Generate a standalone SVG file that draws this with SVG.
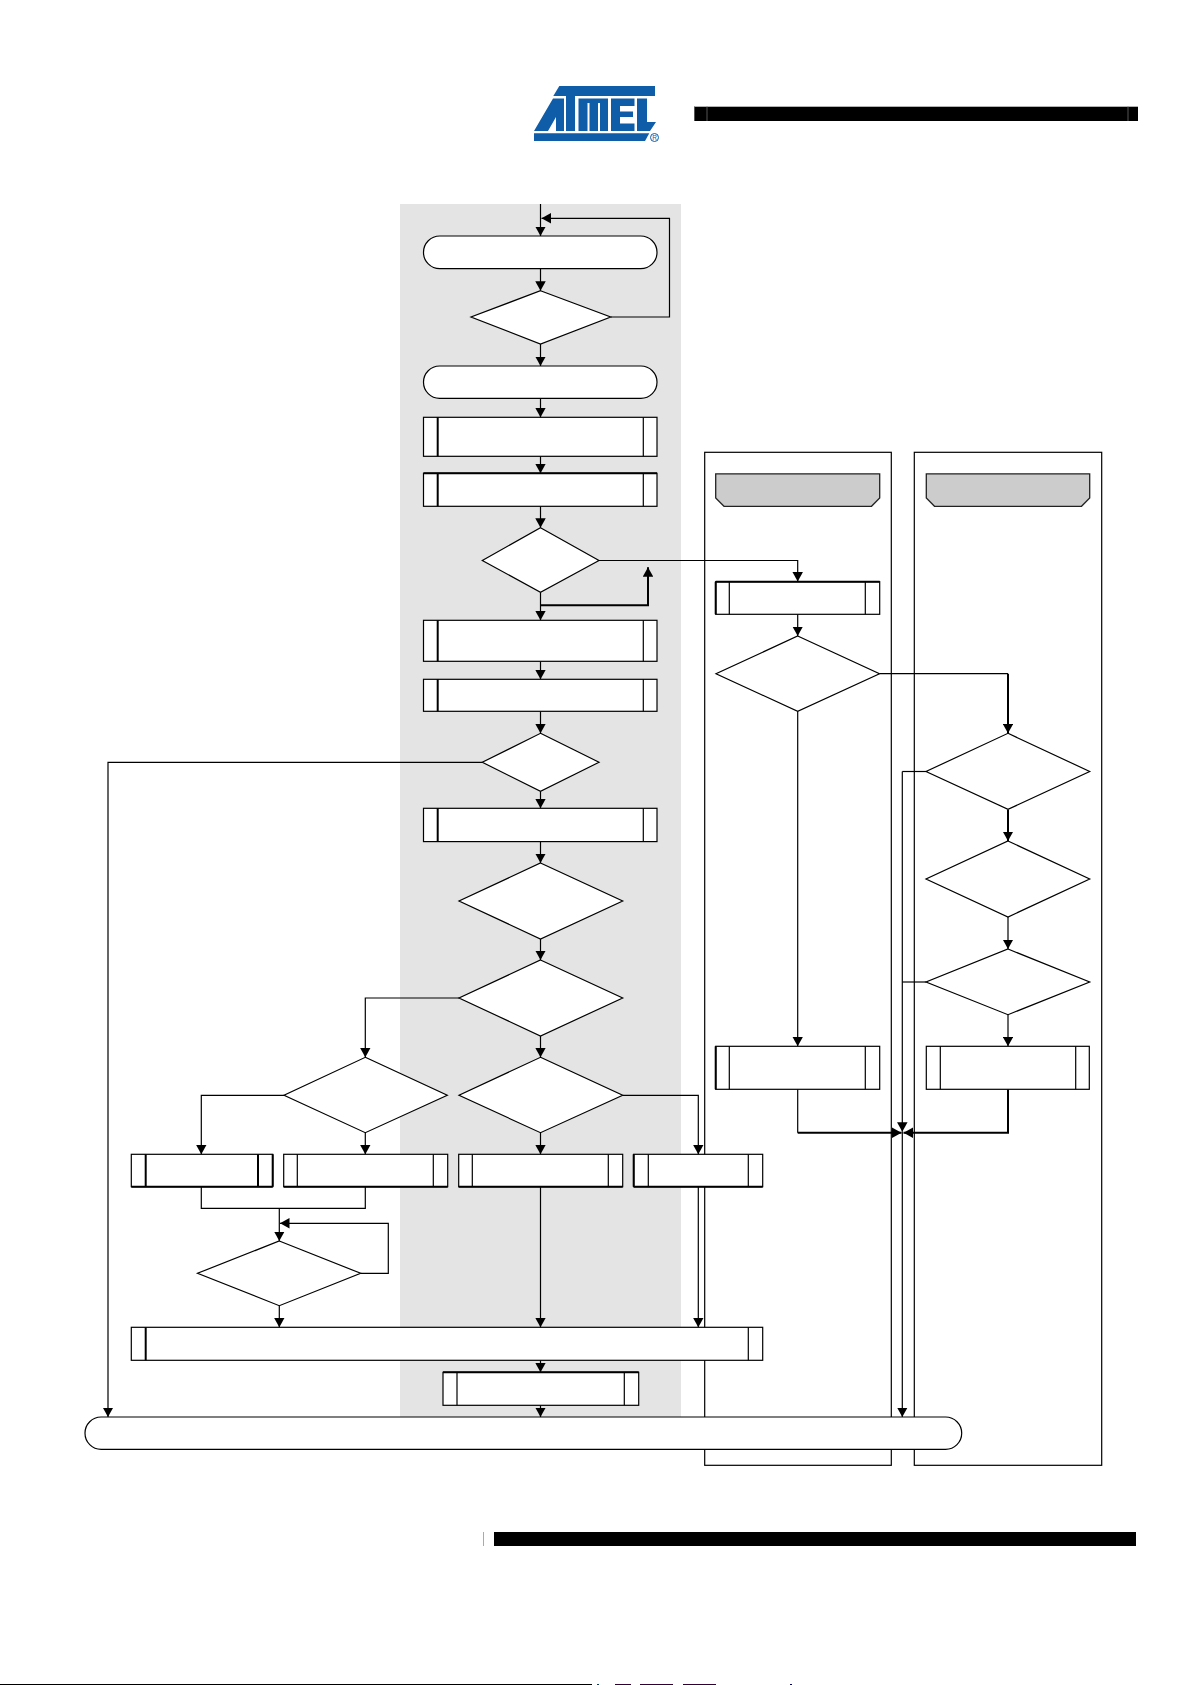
<svg xmlns="http://www.w3.org/2000/svg" width="1191" height="1685" viewBox="0 0 1191 1685">
<style>
.c{fill:none;stroke:#000;stroke-width:1.2}
.t{fill:none;stroke:#000;stroke-width:2}
.n{fill:#fff;stroke:#000;stroke-width:1.2}
.i{fill:none;stroke:#000;stroke-width:1.2}
.k{fill:none;stroke:#000;stroke-width:2}
.h{fill:#ccc;stroke:#222;stroke-width:1.3}
.l{fill:none;stroke:#000;stroke-width:1.2}
.b{fill:#0f5ca8}
</style>
<defs>
<marker id="a" markerUnits="userSpaceOnUse" markerWidth="9.500" markerHeight="10.500" viewBox="0 0 9.500 10.500" refX="9.500" refY="5.250" orient="auto"><path d="M0 0L9.500 5.250L0 10.500Z" fill="#000"/></marker>
</defs>
<rect id="panel" x="400" y="204" width="281" height="1213" fill="#e4e4e4"/>
<g id="logo">
<path class="b" d="M559.300 86H655V96H553.300Z"/>
<path class="b" d="M534 131L553 98.500H564V131H556V117L548 131Z"/>
<rect class="b" x="566" y="96" width="9" height="35"/>
<path class="b" d="M578.500 98.500H608V131H600V103H598V131H589.500V103H587.500V131H578.500Z"/>
<path class="b" d="M611 98.500H634.500V106H620V111.500H633V117H620V123.500H634.500V131H611Z"/>
<path class="b" d="M637 98.500H647V122H656L650 131H637Z"/>
<path class="b" d="M534 133.300H649.300L645 141H534Z"/>
<circle cx="654.500" cy="137.500" r="4" fill="#fff" stroke="#0f5ca8" stroke-width="1"/>
<text x="654.500" y="139.800" font-family="Liberation Sans, sans-serif" font-size="6.500" text-anchor="middle" fill="#0f5ca8">R</text>
</g>
<g id="header-bar">
<rect x="694" y="106.700" width="444" height="14.300" fill="#000"/>
<rect x="694" y="106.700" width="1" height="14.300" fill="#555"/>
<rect x="706.500" y="106.700" width="1" height="14.300" fill="#555"/>
<rect x="1127.500" y="106.700" width="1" height="14.300" fill="#555"/>
</g>
<g id="footer-bar">
<rect x="483" y="1532" width="1" height="14" fill="#aaa"/>
<rect x="494" y="1532" width="642" height="14" fill="#000"/>
<rect x="0" y="1684" width="592" height="1" fill="#000"/>
<rect x="597" y="1684" width="2" height="1" fill="#046"/>
<rect x="615" y="1684" width="16" height="1" fill="#303"/>
<rect x="640" y="1684" width="33" height="1" fill="#303"/>
<rect x="683" y="1684" width="33" height="1" fill="#303"/>
<rect x="790" y="1684" width="2" height="1" fill="#006"/>
</g>
<g id="lanes">
<rect class="l" x="704.700" y="452.300" width="186.600" height="1013"/>
<rect class="l" x="914.300" y="452.300" width="187.400" height="1013"/>
</g>
<g id="connectors">
<path class="c" marker-end="url(#a)" d="M540.500 204V236"/>
<path class="c" marker-end="url(#a)" d="M610.700 317H669.500V218.300H541.500"/>
<path class="c" marker-end="url(#a)" d="M540.500 268.700V290.700"/>
<path class="c" marker-end="url(#a)" d="M540.500 344V366"/>
<path class="c" marker-end="url(#a)" d="M540.500 398.300V417.300"/>
<path class="c" marker-end="url(#a)" d="M540.500 456.300V473.300"/>
<path class="c" marker-end="url(#a)" d="M540.500 506.300V527.700"/>
<path class="c" marker-end="url(#a)" d="M599 560.500H797.700V581.500"/>
<path class="c" marker-end="url(#a)" d="M540.500 592.300V620.300"/>
<path class="t" marker-end="url(#a)" d="M540.500 605.300H648V567.300"/>
<path class="c" marker-end="url(#a)" d="M540.500 661.300V679.300"/>
<path class="c" marker-end="url(#a)" d="M540.500 711.300V733.300"/>
<path class="c" marker-end="url(#a)" d="M482.300 762.300H108V1417"/>
<path class="c" marker-end="url(#a)" d="M540.500 791.300V808.300"/>
<path class="c" marker-end="url(#a)" d="M540.500 841.600V863"/>
<path class="c" marker-end="url(#a)" d="M540.500 939V960"/>
<path class="c" marker-end="url(#a)" d="M459 998H365.300V1057.300"/>
<path class="c" marker-end="url(#a)" d="M540.500 1036V1057.300"/>
<path class="c" marker-end="url(#a)" d="M284 1095.300H201.300V1154.300"/>
<path class="c" marker-end="url(#a)" d="M365.300 1132.700V1154.300"/>
<path class="c" marker-end="url(#a)" d="M540.500 1132.700V1154.300"/>
<path class="c" marker-end="url(#a)" d="M622.700 1095.300H698.300V1154.300"/>
<path class="c" d="M201.300 1186.700V1208.300H365.300V1186.700"/>
<path class="c" marker-end="url(#a)" d="M279.300 1208.300V1241"/>
<path class="c" marker-end="url(#a)" d="M360.700 1273.300H388.300V1223.300H280"/>
<path class="c" marker-end="url(#a)" d="M279.300 1305.700V1327.300"/>
<path class="c" marker-end="url(#a)" d="M540.500 1186.700V1327.300"/>
<path class="c" marker-end="url(#a)" d="M698.300 1186.700V1327.300"/>
<path class="c" marker-end="url(#a)" d="M540.500 1360.300V1372.300"/>
<path class="c" marker-end="url(#a)" d="M540.500 1405.300V1417"/>
<path class="c" marker-end="url(#a)" d="M797.700 614.300V636"/>
<path class="c" marker-end="url(#a)" d="M797.700 711.300V1046.300"/>
<path class="c" d="M879.500 673.700H1008"/>
<path class="t" marker-end="url(#a)" d="M1008 673.700V733.300"/>
<path class="t" marker-end="url(#a)" d="M1008 809.400V841"/>
<path class="c" marker-end="url(#a)" d="M1008 917V949"/>
<path class="c" marker-end="url(#a)" d="M1008 1014.700V1046.300"/>
<path class="c" d="M926 771.500H902.300"/>
<path class="c" d="M926 982H902.300"/>
<path class="c" marker-end="url(#a)" d="M902.300 771.500V1131.700"/>
<path class="c" marker-end="url(#a)" d="M902.300 1131.700V1417"/>
<path class="c" d="M797.700 1089.300V1132.700"/>
<path class="t" marker-end="url(#a)" d="M797.700 1132.700H901.500"/>
<path class="t" marker-end="url(#a)" d="M1008 1089.300V1132.700H903.500"/>
</g>
<g id="start1"><rect class="n" x="423.500" y="236" width="233.500" height="32.700" rx="16.300"/></g>
<g id="decision1"><path class="n" d="M540.500 290.700L610.700 317L540.500 344L471 317Z"/></g>
<g id="start2"><rect class="n" x="423.500" y="366" width="233.500" height="32.300" rx="16.100"/></g>
<g id="proc1"><rect class="n" x="423.500" y="417.300" width="233.500" height="39"/><path class="k" d="M437.700 417.300V456.300"/><path class="i" d="M643.300 417.300V456.300"/></g>
<g id="proc2"><rect class="n" x="423.500" y="473.300" width="233.500" height="33"/><path class="k" d="M423.500 473.300H657M437.700 473.300V506.300"/><path class="i" d="M643.300 473.300V506.300"/></g>
<g id="decision2"><path class="n" d="M540.500 527.700L599 560.500L540.500 592.300L482.300 560.500Z"/></g>
<g id="proc3"><rect class="n" x="423.500" y="620.300" width="233.500" height="41"/><path class="k" d="M437.700 620.300V661.300"/><path class="i" d="M643.300 620.300V661.300"/></g>
<g id="proc4"><rect class="n" x="423.500" y="679.300" width="233.500" height="32"/><path class="k" d="M437.700 679.300V711.300"/><path class="i" d="M643.300 679.300V711.300"/></g>
<g id="decision3"><path class="n" d="M540.500 733.300L599 762.300L540.500 791.300L482.300 762.300Z"/></g>
<g id="proc5"><rect class="n" x="423.500" y="808.300" width="233.500" height="33.300"/><path class="k" d="M437.700 808.300V841.600"/><path class="i" d="M643.300 808.300V841.600"/></g>
<g id="decision4"><path class="n" d="M540.500 863L622.700 901L540.500 939L459 901Z"/></g>
<g id="decision5"><path class="n" d="M540.500 960L622.700 998L540.500 1036L459 998Z"/></g>
<g id="decision6"><path class="n" d="M365.300 1057.300L447.300 1095.300L365.300 1132.700L284 1095.300Z"/></g>
<g id="decision7"><path class="n" d="M540.500 1057.300L622.700 1095.300L540.500 1132.700L459 1095.300Z"/></g>
<g id="proc6"><rect class="n" x="131.300" y="1154.300" width="141.400" height="32.400"/><path class="k" d="M131.300 1186.700H272.700M145.700 1154.300V1186.700M258 1154.300V1186.700M272.700 1154.300V1186.700"/></g>
<g id="proc7"><rect class="n" x="283.700" y="1154.300" width="164" height="32.400"/><path class="k" d="M283.700 1186.700H447.700"/><path class="i" d="M297.300 1154.300V1186.700M433.300 1154.300V1186.700"/></g>
<g id="proc8"><rect class="n" x="458.700" y="1154.300" width="164" height="32.400"/><path class="k" d="M458.700 1186.700H622.700"/><path class="i" d="M472.300 1154.300V1186.700M608.300 1154.300V1186.700"/></g>
<g id="proc9"><rect class="n" x="633.700" y="1154.300" width="129" height="32.400"/><path class="k" d="M633.700 1186.700H762.700M633.700 1154.300V1186.700"/><path class="i" d="M648.300 1154.300V1186.700M748.300 1154.300V1186.700"/></g>
<g id="decision8"><path class="n" d="M279.300 1241L360.700 1273.300L279.300 1305.700L197.500 1273.300Z"/></g>
<g id="proc10"><rect class="n" x="131.300" y="1327.300" width="631.400" height="33"/><path class="k" d="M145.700 1327.300V1360.300"/><path class="i" d="M748.300 1327.300V1360.300"/></g>
<g id="proc11"><rect class="n" x="443" y="1372.300" width="195.700" height="33"/><path class="k" d="M443 1372.300H638.700"/><path class="i" d="M457 1372.300V1405.300M624.300 1372.300V1405.300"/></g>
<g id="end"><rect class="n" x="85" y="1417" width="876.700" height="32.300" rx="16.100"/></g>
<g id="lane1-header"><path class="h" d="M715.700 473.800H879.700V498L871.500 506.300H724L715.700 498Z"/></g>
<g id="lane2-header"><path class="h" d="M926.300 473.800H1089.700V498L1081.500 506.300H934.500L926.300 498Z"/></g>
<g id="lane-proc1"><rect class="n" x="715.700" y="581.700" width="164" height="32.600"/><path class="k" d="M715.700 581.700H879.700M715.700 581.700V614.300"/><path class="i" d="M729.300 581.700V614.300M865.300 581.700V614.300"/></g>
<g id="lane-decision1"><path class="n" d="M797.700 636L879.500 673.700L797.700 711.300L716 673.700Z"/></g>
<g id="lane-decision2"><path class="n" d="M1008 733.300L1089.700 771.500L1008 809.400L926 771.500Z"/></g>
<g id="lane-decision3"><path class="n" d="M1008 841L1089.700 879L1008 917L926 879Z"/></g>
<g id="lane-decision4"><path class="n" d="M1008 949L1089.700 982L1008 1014.700L926 982Z"/></g>
<g id="lane-proc2"><rect class="n" x="715.700" y="1046.300" width="164" height="43"/><path class="k" d="M715.700 1046.300V1089.300"/><path class="i" d="M729.300 1046.300V1089.300M865.300 1046.300V1089.300"/></g>
<g id="lane-proc3"><rect class="n" x="926.300" y="1046.300" width="163" height="43"/><path class="i" d="M940.300 1046.300V1089.300M1075.700 1046.300V1089.300"/></g>
</svg>
